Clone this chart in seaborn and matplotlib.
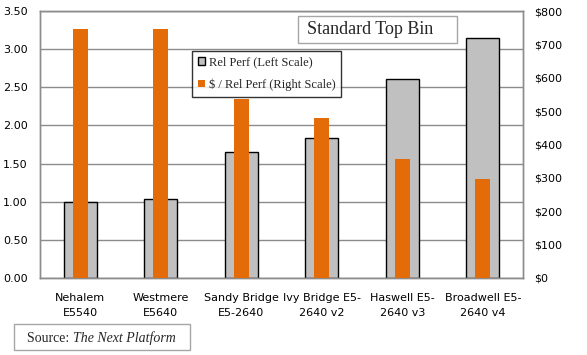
import pandas as pd
import matplotlib
matplotlib.use("Agg")
import matplotlib.pyplot as plt
import seaborn as sns
from matplotlib.patches import Patch, Rectangle
from matplotlib.ticker import FuncFormatter

# chip generations
chips = ["Nehalem\nE5540", "Westmere\nE5640", "Sandy Bridge\nE5-2640",
         "Ivy Bridge E5-\n2640 v2", "Haswell E5-\n2640 v3", "Broadwell E5-\n2640 v4"]
rel_perf = [1.00, 1.04, 1.65, 1.84, 2.61, 3.15]
dollar_per_perf = [745, 745, 535, 480, 358, 298]

df = pd.DataFrame({"chip": chips, "rel_perf": rel_perf, "cost": dollar_per_perf})

sns.set_style("white")
serif = ["Liberation Serif", "DejaVu Serif"]

fig = plt.figure(figsize=(5.87, 3.55), dpi=100)
ax = fig.add_axes([0.068, 0.217, 0.823, 0.752])
ax2 = ax.twinx()

# gray bars on left scale
sns.barplot(data=df, x="chip", y="rel_perf", color="#c0c0c0", edgecolor="black",
            linewidth=1.0, width=0.41, saturation=1, ax=ax, zorder=2)
# orange bars on right scale
sns.barplot(data=df, x="chip", y="cost", color="#e36c09", width=0.19,
            saturation=1, linewidth=0, edgecolor="none", ax=ax2, zorder=3)

ax.set_ylim(0, 3.5)
ax.set_yticks([i * 0.5 for i in range(8)])
ax.yaxis.set_major_formatter(FuncFormatter(lambda v, p: f"{v:.2f}"))
ax2.set_ylim(0, 800)
ax2.set_yticks(range(0, 801, 100))
ax2.yaxis.set_major_formatter(FuncFormatter(lambda v, p: f"${v:.0f}"))

ax.grid(axis="y", color="#8c8c8c", linewidth=1.0, zorder=0)
ax.set_axisbelow(True)
ax.set_xlabel("")
ax.set_ylabel("")
ax2.set_ylabel("")
for a in (ax, ax2):
    for s in a.spines.values():
        s.set_color("#8c8c8c")
        s.set_linewidth(1.0)
    a.tick_params(length=0, labelsize=8, colors="black")
ax.tick_params(axis="x", pad=11)
ax.tick_params(axis="y", pad=9)
ax2.tick_params(axis="y", pad=8)
for lbl in ax.get_xticklabels():
    lbl.set_linespacing(1.55)

# legend
handles = [Patch(facecolor="#c0c0c0", edgecolor="black", label="Rel Perf (Left Scale)"),
           Patch(facecolor="#e36c09", edgecolor="none", label="$ / Rel Perf (Right Scale)")]
leg = fig.legend(handles=handles, loc="upper left", bbox_to_anchor=(0.327, 0.857),
                 frameon=True, fancybox=False, prop={"family": serif, "size": 9},
                 handlelength=0.6, handleheight=0.6, handletextpad=0.3,
                 borderpad=0.45, labelspacing=0.8, borderaxespad=0)
leg.get_frame().set_edgecolor("black")
leg.get_frame().set_linewidth(1.0)
leg.set_zorder(10)

# title box
fig.patches.append(Rectangle((298 / 587, 1 - 43 / 355), 159 / 587, 27 / 355,
                             transform=fig.transFigure, facecolor="white",
                             edgecolor="#a6a6a6", linewidth=1.0, zorder=5))
fig.text(307 / 587, 1 - 30 / 355, "Standard Top Bin", family=serif, fontsize=13,
         va="center", ha="left", zorder=6)

# source box
fig.patches.append(Rectangle((14 / 587, 1 - 350 / 355), 176 / 587, 26 / 355,
                             transform=fig.transFigure, facecolor="white",
                             edgecolor="#a6a6a6", linewidth=1.0, zorder=5))
t = fig.text(27 / 587, 1 - 338 / 355, "Source: ", family=serif, fontsize=10,
             va="center", ha="left", zorder=6)
fig.canvas.draw()
bb = t.get_window_extent()
fig.text(bb.x1 / fig.bbox.width, 1 - 338 / 355, "The Next Platform", family=serif,
         fontsize=10, style="italic", va="center", ha="left", zorder=6)

fig.savefig("out.png", dpi=100)
